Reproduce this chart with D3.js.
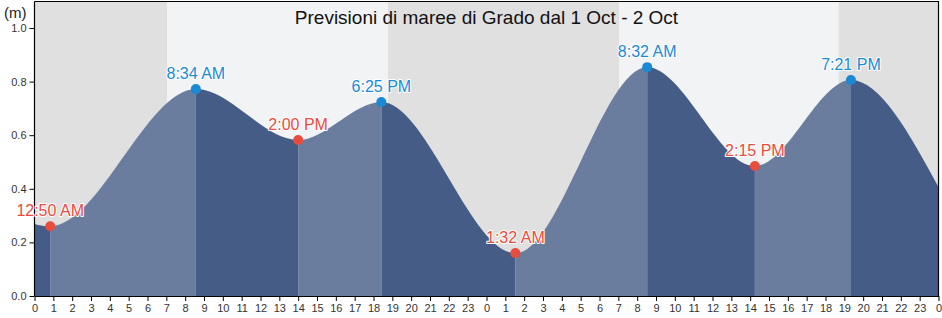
<!DOCTYPE html>
<html>
<head>
<meta charset="utf-8">
<script src="https://cdn.jsdelivr.net/npm/d3@7"></script>
<style>
  body { margin: 0; background: #fff; }
  svg { display: block; font-family: "Liberation Sans", Arial, sans-serif; }
</style>
</head>
<body>
<svg id="chart" width="942" height="318"></svg>
<script>
// hours since 1 Oct 00:00
const extremeHours = [0.833, 8.567, 14.0, 18.417, 25.533, 32.533, 38.25, 43.35];
const extremeHeights = [0.26, 0.772, 0.582, 0.724, 0.16, 0.854, 0.485, 0.806];
const extremeLabels = ["12:50 AM", "8:34 AM", "2:00 PM", "6:25 PM", "1:32 AM", "8:32 AM", "2:15 PM", "7:21 PM"];
const extremeTypes = ["low", "high", "low", "high", "low", "high", "low", "high"];
const edgeHours = [0, 48];
const edgeHeights = [0.269, 0.407];
// daylight intervals (hours)
const dayStart = [7.04, 31.04];
const dayEnd = [18.77, 42.7];
const yTicks = [0, 0.2, 0.4, 0.6, 0.8, 1.0];
const title = "Previsioni di maree di Grado dal 1 Oct - 2 Oct";

const W = 942, H = 318;
const m = { left: 34.5, right: 3.5, top: 1.5, bottom: 22 };

const svg = d3.select("#chart");
const x = d3.scaleLinear().domain([0, 48]).range([m.left, W - m.right]);
const y = d3.scaleLinear().domain([0, 1.1]).range([H - m.bottom, H - m.bottom - 1.1 * 268]);

// background: night then day bands
svg.append("rect")
  .attr("x", x(0)).attr("y", m.top)
  .attr("width", x(48) - x(0)).attr("height", y(0) - m.top)
  .attr("fill", "#e0e0e0");
dayStart.forEach((s, i) => {
  svg.append("rect")
    .attr("x", x(s)).attr("y", m.top)
    .attr("width", x(dayEnd[i]) - x(s)).attr("height", y(0) - m.top)
    .attr("fill", "#f2f3f5");
});

// tide curve
const pts = [{ t: edgeHours[0], h: edgeHeights[0] }]
  .concat(extremeHours.map((t, i) => ({ t, h: extremeHeights[i] })))
  .concat([{ t: edgeHours[1], h: edgeHeights[1] }]);

const area = d3.area()
  .x(d => x(d.t))
  .y0(y(0))
  .y1(d => y(d.h))
  .curve(d3.curveMonotoneX);

const bounds = [edgeHours[0]].concat(extremeHours, [edgeHours[1]]);
const defs = svg.append("defs");
for (let i = 0; i < bounds.length - 1; i++) {
  const rising = pts[i + 1].h > pts[i].h;
  defs.append("clipPath").attr("id", "seg" + i)
    .append("rect")
    .attr("x", x(bounds[i])).attr("y", 0)
    .attr("width", x(bounds[i + 1]) - x(bounds[i])).attr("height", H);
  svg.append("path")
    .datum(pts)
    .attr("d", area)
    .attr("clip-path", `url(#seg${i})`)
    .attr("fill", rising ? "#6a7d9e" : "#455d86");
}

// frame (top/right)
svg.append("path")
  .attr("d", `M${x(0)},${m.top}H${x(48)}V${y(0)}`)
  .attr("fill", "none").attr("stroke", "#000").attr("stroke-width", 1.2);

// axes
const yAxis = d3.axisLeft(y).tickValues(yTicks).tickFormat(d3.format(".1f")).tickSize(5);
const gy = svg.append("g").attr("transform", `translate(${x(0)},0)`).call(yAxis);
gy.select(".domain").attr("d", `M0,${m.top}V${y(0)}`).attr("stroke", "#000").attr("stroke-width", 1.2);
gy.selectAll("text").attr("font-size", 11).attr("fill", "#333").attr("font-family", "Liberation Sans, Arial, sans-serif");

const xAxis = d3.axisBottom(x).tickValues(d3.range(0, 49)).tickFormat(d => d % 24).tickSize(5).tickSizeOuter(0);
const gx = svg.append("g").attr("transform", `translate(0,${y(0)})`).call(xAxis);
gx.select(".domain").attr("stroke", "#000").attr("stroke-width", 1.2);
gx.selectAll("text").attr("font-size", 11).attr("fill", "#333").attr("dy", "0.75em").attr("font-family", "Liberation Sans, Arial, sans-serif");

svg.append("text").attr("x", 4).attr("y", 18)
  .attr("font-size", 15).attr("fill", "#222").text("(m)");

// title
svg.append("text")
  .attr("x", (x(0) + x(48)) / 2).attr("y", 24)
  .attr("text-anchor", "middle").attr("font-size", 19).attr("fill", "#111")
  .text(title);

// extremes
const col = { high: "#1a8ad4", low: "#e84c3d" };
extremeHours.forEach((t, i) => {
  const c = col[extremeTypes[i]];
  svg.append("circle").attr("cx", x(t)).attr("cy", y(extremeHeights[i])).attr("r", 5).attr("fill", c);
  svg.append("text")
    .attr("x", x(t)).attr("y", y(extremeHeights[i]) - 10)
    .attr("text-anchor", "middle").attr("font-size", 16)
    .attr("fill", c).attr("stroke", "#fff").attr("stroke-width", 2)
    .attr("paint-order", "stroke").attr("stroke-linejoin", "round")
    .text(extremeLabels[i]);
});
</script>
</body>
</html>
